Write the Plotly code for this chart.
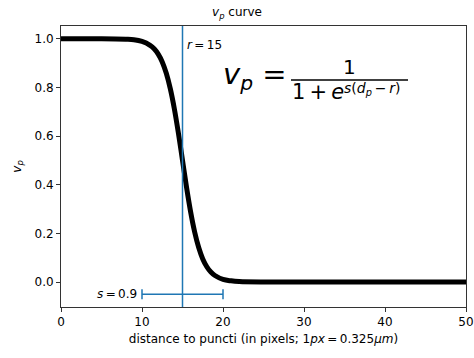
import plotly.graph_objects as go

# curve values
dist = [0, 5, 8, 9, 10, 11, 11.5, 12, 12.5, 13, 13.5, 14, 14.5, 15, 15.5, 16, 16.5,
        17, 17.5, 18, 18.5, 19, 20, 21, 22, 25, 30, 40, 50]
vp = [1.0, 1.0, 0.998, 0.996, 0.989, 0.973, 0.959, 0.937, 0.905, 0.858, 0.794, 0.711,
      0.611, 0.5, 0.389, 0.289, 0.206, 0.142, 0.095, 0.063, 0.041, 0.027, 0.011,
      0.005, 0.002, 0.0, 0.0, 0.0, 0.0]
r_value = 15
s_center = [15]
s_level = [-0.05]
s_half = [5]

x_ticks = [0, 10, 20, 30, 40, 50]
y_ticks = [0.0, 0.2, 0.4, 0.6, 0.8, 1.0]

W, H = 474, 358
L_ABS, R_ABS, T_ABS, B_ABS = 61, 466, 26, 307
L, T = L_ABS, T_ABS
R = W - R_ABS
B = H - B_ABS
PW, PH = R_ABS - L_ABS, B_ABS - T_ABS

def px(x):
    return (x - L_ABS) / PW

def py(y):
    return (B_ABS - y) / PH

FONT = "DejaVu Sans"
BLUE = "#1f77b4"
TS = "\u2009"
FS = 12

fig = go.Figure()
fig.add_trace(go.Scatter(x=dist, y=vp, mode="lines", line=dict(color="black", width=5, shape="spline"),
                         showlegend=False, hoverinfo="skip"))
fig.add_trace(go.Scatter(x=s_center, y=s_level, mode="markers",
                         marker=dict(size=1, color="rgba(0,0,0,0)"),
                         error_x=dict(type="data", array=s_half, symmetric=True, color=BLUE,
                                      thickness=1.5, width=5),
                         showlegend=False, hoverinfo="skip"))

annots = [
    dict(x=r_value + 0.3, y=0.975, xref="x", yref="y", text="<i>r</i>" + TS + "=" + TS + "15",
         showarrow=False, xanchor="left", yanchor="middle", font=dict(size=FS, color="black")),
    dict(x=9.6, y=s_level[0], xref="x", yref="y", text="<i>s</i>" + TS + "=" + TS + "0.9",
         showarrow=False, xanchor="right", yanchor="middle", font=dict(size=FS, color="black")),
    dict(x=px(221), y=py(76), xref="paper", yref="paper",
         text="<i>v</i><sub><i>p</i></sub> =", showarrow=False, xanchor="left", yanchor="middle",
         font=dict(size=29, color="black")),
    dict(x=px(349), y=py(67), xref="paper", yref="paper", text="1", showarrow=False,
         xanchor="center", yanchor="middle", font=dict(size=20, color="black")),
    dict(x=px(290), y=py(92), xref="paper", yref="paper", text="1" + TS + "+" + TS + "<i>e</i>",
         showarrow=False, xanchor="left", yanchor="middle", font=dict(size=21, color="black")),
    dict(x=px(342), y=py(88.5), xref="paper", yref="paper",
         text="<i>s</i>(<i>d</i><sub><i>p</i></sub>" + TS + "−" + TS + "<i>r</i>)", showarrow=False,
         xanchor="left", yanchor="middle", font=dict(size=14, color="black")),
]

fig.update_layout(
    width=W, height=H,
    margin=dict(l=L, r=R, t=T, b=B, autoexpand=False),
    paper_bgcolor="white", plot_bgcolor="white",
    font=dict(family=FONT, size=FS, color="black"),
    title=dict(text="<i>v</i><sub><i>p</i></sub> curve", x=px((L_ABS + R_ABS) / 2), xanchor="center",
               y=1 - 12 / H, yanchor="middle", font=dict(size=FS), automargin=False),
    annotations=annots,
    shapes=[dict(type="line", xref="paper", yref="paper", x0=px(291), x1=px(408),
                 y0=py(80), y1=py(80), line=dict(color="black", width=1.5))],
)
fig.add_vline(x=r_value, line=dict(color=BLUE, width=1.5))
fig.update_xaxes(range=[0, 50], tickvals=x_ticks, ticks="outside", ticklen=4, tickcolor="#333",
                 showline=True, linecolor="#333", linewidth=1, mirror=True, showgrid=False,
                 zeroline=False, automargin=False, ticklabeloverflow="allow",
                 title=dict(text="distance to puncti (in pixels; 1<i>px</i>" + TS + "=" + TS + "0.325<i>μm</i>)",
                            font=dict(size=FS), standoff=6))
fig.update_yaxes(range=[-0.1025, 1.0525], tickvals=y_ticks, tickformat=".1f", ticks="outside",
                 ticklen=4, tickcolor="#333", showline=True, linecolor="#333", linewidth=1,
                 mirror=True, showgrid=False, zeroline=False, automargin=False,
                 title=dict(text="<i>v</i><sub><i>p</i></sub>", font=dict(size=FS), standoff=10))

fig.write_html("out.html", config={"displayModeBar": False},
               post_script="document.body.style.margin='0';document.body.style.overflow='hidden';")
